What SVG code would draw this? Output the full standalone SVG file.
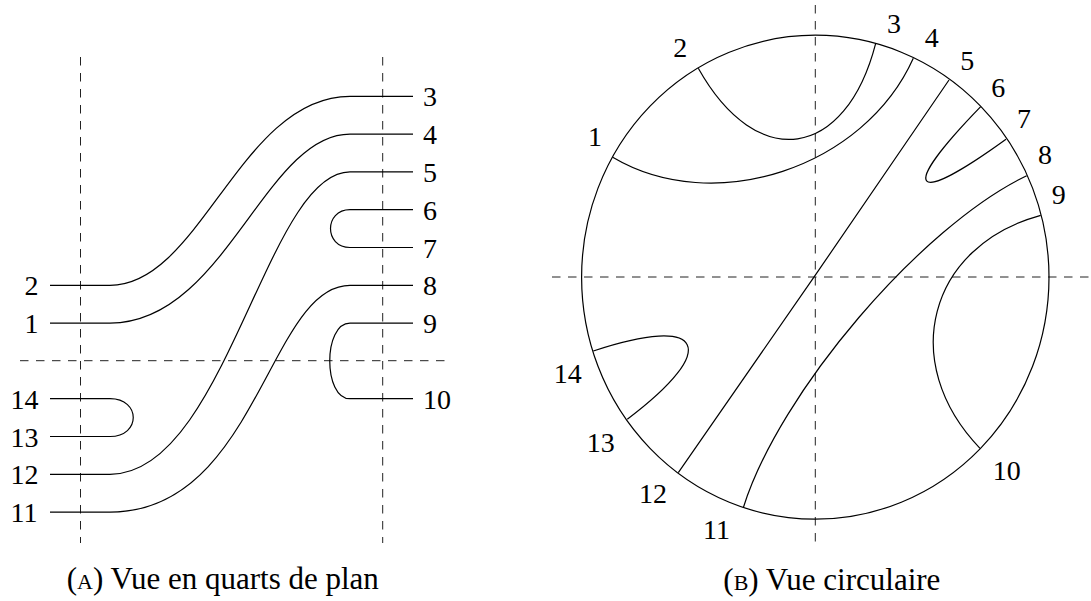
<svg xmlns="http://www.w3.org/2000/svg" width="1091" height="601" viewBox="0 0 1091 601">
<rect width="1091" height="601" fill="#fff"/>
<g id="panel-a">
  <g id="axes-a" fill="none" stroke="#222" stroke-width="1" stroke-dasharray="8.5 7.5">
    <line x1="80.5" y1="57" x2="80.5" y2="543"/>
    <line x1="382.7" y1="57" x2="382.7" y2="543"/>
    <line x1="20" y1="360.7" x2="445" y2="360.7"/>
  </g>
  <g id="strands-a" fill="none" stroke="#000" stroke-width="1.2">
    <path d="M50,285.3 H110 C200.6,285.3 240.6,96.3 350,96.3 H413"/>
    <path d="M50,323.1 H110 C224.7,323.1 264.7,134.1 350,134.1 H413"/>
    <path d="M50,474.3 H110 C225.5,474.3 266.5,171.9 350,171.9 H413"/>
    <path d="M50,512.1 H110 C257,512.1 269,285.3 350,285.3 H413"/>
    <path d="M413,209.7 H350 C324,209.7 324,247.5 350,247.5 H413"/>
    <path d="M413,323.1 H350 C323,323.1 323,398.7 350,398.7 H413"/>
    <path d="M50,398.7 H110 C141,398.7 141,436.5 110,436.5 H50"/>
  </g>
  <g id="labels-a">
    <text x="423" y="106.3" font-family="Liberation Serif" font-size="28">3</text>
    <text x="423" y="144.1" font-family="Liberation Serif" font-size="28">4</text>
    <text x="423" y="181.9" font-family="Liberation Serif" font-size="28">5</text>
    <text x="423" y="219.7" font-family="Liberation Serif" font-size="28">6</text>
    <text x="423" y="257.5" font-family="Liberation Serif" font-size="28">7</text>
    <text x="423" y="295.3" font-family="Liberation Serif" font-size="28">8</text>
    <text x="423" y="333.1" font-family="Liberation Serif" font-size="28">9</text>
    <text x="423" y="408.7" font-family="Liberation Serif" font-size="28">10</text>
    <text x="24.5" y="295.3" font-family="Liberation Serif" font-size="28">2</text>
    <text x="24.5" y="333.1" font-family="Liberation Serif" font-size="28">1</text>
    <text x="10.5" y="408.7" font-family="Liberation Serif" font-size="28">14</text>
    <text x="10.5" y="446.5" font-family="Liberation Serif" font-size="28">13</text>
    <text x="10.5" y="484.3" font-family="Liberation Serif" font-size="28">12</text>
    <text x="10.5" y="522.1" font-family="Liberation Serif" font-size="28">11</text>
  </g>
  <text x="66.7" y="589.3" font-family="Liberation Serif" font-size="31">(<tspan font-size="22">A</tspan>) Vue en quarts de plan</text>
</g>
<g id="panel-b">
  <g id="axes-b" fill="none" stroke="#222" stroke-width="1" stroke-dasharray="8.5 7.5">
    <line x1="815.3" y1="5" x2="815.3" y2="549"/>
    <line x1="552" y1="277" x2="1091" y2="277"/>
  </g>
  <ellipse id="circle" fill="none" stroke="#000" stroke-width="1.2" cx="815.3" cy="277.2" rx="233.7" ry="242"/>
  <g id="chords-b" fill="none" stroke="#000" stroke-width="1.2">
    <path d="M612.7,157.3 C714,217.25 864.3,167.75 913.3,58.3"/>
    <path d="M698.3,68.3 C756.8,172.75 845.5,160.25 875.7,43.3"/>
    <path d="M949,80 C882.2,178.6 746.8,374.95 678.3,472.7"/>
    <path d="M980.7,106.7 C898,191.95 910.65,208.25 1006,139.3"/>
    <path d="M1026.7,175.7 C921,226.45 779.3,392.45 743.3,507.7"/>
    <path d="M1040.7,215.3 C928,246.25 897.65,362.75 980,448.3"/>
    <path d="M593.3,351 C704.3,314.1 721.3,348.25 627.3,419.3"/>
  </g>
  <g id="labels-b">
    <text x="588" y="146" font-family="Liberation Serif" font-size="28">1</text>
    <text x="673.3" y="57.3" font-family="Liberation Serif" font-size="28">2</text>
    <text x="887" y="33.3" font-family="Liberation Serif" font-size="28">3</text>
    <text x="924.7" y="46.7" font-family="Liberation Serif" font-size="28">4</text>
    <text x="960.3" y="70" font-family="Liberation Serif" font-size="28">5</text>
    <text x="991.3" y="97.3" font-family="Liberation Serif" font-size="28">6</text>
    <text x="1017" y="128.3" font-family="Liberation Serif" font-size="28">7</text>
    <text x="1038" y="164" font-family="Liberation Serif" font-size="28">8</text>
    <text x="1051.8" y="204" font-family="Liberation Serif" font-size="28">9</text>
    <text x="992.7" y="480" font-family="Liberation Serif" font-size="28">10</text>
    <text x="703" y="539.3" font-family="Liberation Serif" font-size="28">11</text>
    <text x="639" y="503.3" font-family="Liberation Serif" font-size="28">12</text>
    <text x="586.8" y="451.7" font-family="Liberation Serif" font-size="28">13</text>
    <text x="553.8" y="383.3" font-family="Liberation Serif" font-size="28">14</text>
  </g>
  <text x="723.3" y="590" font-family="Liberation Serif" font-size="31">(<tspan font-size="22">B</tspan>) Vue circulaire</text>
</g>
</svg>
